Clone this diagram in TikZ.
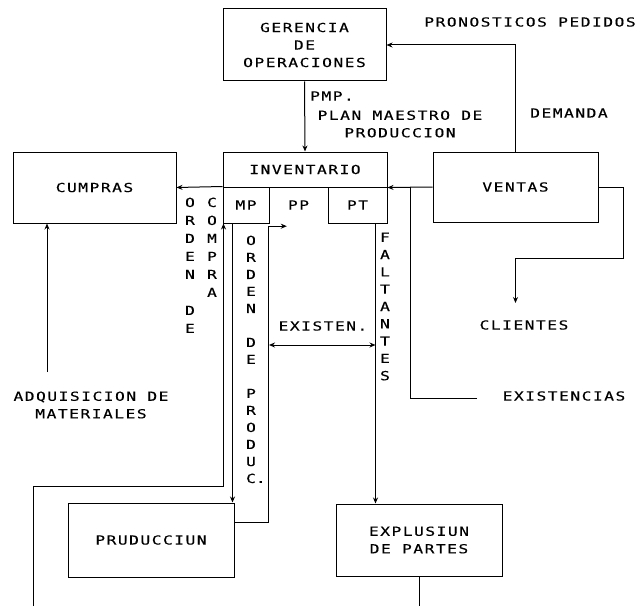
\documentclass[tikz,border=0pt]{standalone}
\usepackage{fontspec}
\setmonofont[FakeStretch=1.3,LetterSpace=12,FakeBold=0.3]{DejaVu Sans Mono}
\usetikzlibrary{arrows.meta,positioning}

\begin{document}
\begin{tikzpicture}[
    x=1pt, y=-1pt,
    >=Stealth,
    font=\ttfamily\fontsize{12.5}{17.5}\selectfont,
    box/.style={
        draw,
        line width=1pt,
        align=center,
        inner sep=0pt
    },
    cell/.style={
        box,
        minimum height=36pt
    },
    lbl/.style={
        align=center,
        inner sep=0pt
    },
    vtext/.style={
        align=center,
        inner sep=0pt,
        anchor=north,
        font=\ttfamily\fontsize{12.5}{#1}\selectfont
    },
    arr/.style={-{Stealth[length=6pt,width=5pt]}, line width=1pt},
    arrboth/.style={{Stealth[length=6pt,width=5pt]}-{Stealth[length=6pt,width=5pt]}, line width=1pt},
    wire/.style={line width=1pt}
]
\useasboundingbox (0,0) rectangle (643,610);

\node[box, minimum width=163pt, minimum height=72pt] (gerencia) at (304.5,45)
{GERENCIA\\DE\\OPERACIONES};

\node[box, minimum width=164pt, minimum height=35pt] (inv) at (305,169.5) {INVENTARIO};
\node[cell, minimum width=46pt] (mp) at (246,205) {MP};
\node[lbl, minimum width=59pt, minimum height=36pt] (pp) at (298.5,205) {PP};
\node[cell, minimum width=59pt] (pt) at (357.5,205) {PT};

\node[box, minimum width=165pt, minimum height=70pt] (ventas) at (515.5,187) {VENTAS};
\node[box, minimum width=163pt, minimum height=71pt] (cumpras) at (94.5,187.5) {CUMPRAS};
\node[box, minimum width=166pt, minimum height=74pt] (produccion) at (151,540) {PRUDUCCIUN};
\node[box, minimum width=166pt, minimum height=72pt] (explusion) at (419,540)
{EXPLUSIUN\\DE PARTES};

\node[lbl] (pronosticos) at (530,22) {PRONOSTICOS PEDIDOS};
\node[lbl, anchor=west] (pmp) at (310,96) {PMP.};
\node[lbl] (plan) at (400,124) {PLAN MAESTRO DE\\PRODUCCION};
\node[lbl] (demanda) at (569,113) {DEMANDA};
\node[lbl] (clientes) at (524,325) {CLIENTES};
\node[lbl] (existen) at (323,326) {EXISTEN.};
\node[lbl] (existencias) at (564,396) {EXISTENCIAS};
\node[lbl] (adquisicion) at (91,405) {ADQUISICION DE\\MATERIALES};

\node[vtext=18] (ordende) at (190,197.5) {O\\R\\D\\E\\N\\~\\D\\E};
\node[vtext=18] (compra) at (212,197.5) {C\\O\\M\\P\\R\\A};
\node[vtext=17] (ordenprod) at (251,235.5)
{O\\R\\D\\E\\N\\~\\D\\E\\~\\P\\R\\O\\D\\U\\C\rlap{.}};
\node[vtext=17.3] (faltantes) at (385,232.5) {F\\A\\L\\T\\A\\N\\T\\E\\S};

\coordinate (vjoin) at (410,187);
\coordinate (exend) at (477,398);
\coordinate (cbend) at (623,258);
\coordinate (clin) at (515.5,303);
\coordinate (adqend) at (47,372);
\coordinate (botL) at (33,606);
\coordinate (cbot) at (33,486);
\coordinate (botR) at (419,606);
\coordinate (opl) at ([xshift=10pt]mp.south west);
\coordinate (opr) at ([yshift=18pt]produccion.east);
\coordinate (ppin) at ([xshift=18pt,yshift=-3pt]pp.south west);
\coordinate (ptout) at ([xshift=-12pt]pt.south east);
\coordinate (exl) at (269,345);
\coordinate (exr) at (375.5,345);

\draw[arr] (gerencia.south) -- (inv.north);
\draw[arr] (ventas.north) |- (gerencia.east);
\draw[arr] (ventas.west) -- (inv.south east);
\draw[wire] (exend) -| (vjoin);
\draw[arr] (ventas.east) -| (cbend) -| (clin);
\draw[arr] (mp.north west) -- (cumpras.east);
\draw[arr] (adqend) -- (adqend |- cumpras.south);
\draw[arr] (botL) -- (cbot) -| ([xshift=1pt]mp.south west);
\draw[arr] (opl) -- (opl |- produccion.north);
\draw[arr] (opr) -| ([yshift=-3pt]pp.south west) -- (ppin);
\draw[arr] (ptout) -- (ptout |- explusion.north);
\draw[arrboth] (exl) -- (exr);
\draw[wire] (explusion.south) -- (botR);

\end{tikzpicture}
\end{document}
